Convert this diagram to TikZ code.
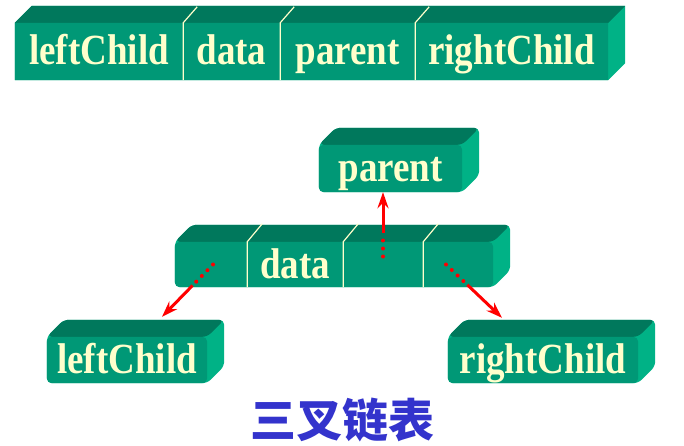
\documentclass[tikz,border=0pt]{standalone}
\usepackage{fontspec}
\usepackage{tikz}
\usetikzlibrary{calc,arrows.meta,backgrounds}
\setmainfont{Liberation Serif}
\newfontfamily\boxfont{Liberation Serif}[FakeStretch=0.86]
\newfontfamily\cjk{Noto Sans CJK SC}
\definecolor{frontgreen}{RGB}{0,152,118}
\definecolor{topgreen}{RGB}{0,120,92}
\definecolor{sidegreen}{RGB}{0,178,134}
\definecolor{textyellow}{RGB}{255,255,204}
\definecolor{titleblue}{RGB}{51,51,204}

% 3D slab behind the front face from node #1 (left) to node #2 (right)
\newcommand{\slab}[3]{%
  \begin{pgfonlayer}{background}
  \fill[sidegreen, rounded corners=#3] (#1.south west) -- (#1.north west) -- ($(#1.north west)+(17,-17)$)
     -- ($(#2.north east)+(17,-17)$) -- ($(#2.south east)+(17,-17)$) -- (#2.south east) -- cycle;
  \fill[topgreen, rounded corners=#3] (#1.north west) -- ($(#1.north west)+(17,-17)$)
     -- ($(#2.north east)+(17,-17)$) -- (#2.north east) -- cycle;
  \fill[frontgreen, rounded corners=#3] (#1.south west) rectangle (#2.north east);
  \end{pgfonlayer}}

\begin{document}
\begin{tikzpicture}[x=1pt, y=-1pt,
		cell_style/.style={rectangle, inner sep=0pt, text=textyellow,
			font=\boxfont\bfseries\fontsize{43pt}{43pt}\selectfont,
			text height=30pt, text depth=3pt},
		divider_style/.style={draw=textyellow, line width=1.2pt},
		dot_style/.style={draw=red, line width=4pt, line cap=round, dash pattern=on 0pt off 8pt},
		arrow_style/.style={draw=red, line width=3pt, -{Stealth[length=16pt, width=11pt]}}]

		\useasboundingbox (0,0) rectangle (684,446);

		% upper row: the node layout
		\node[cell_style, minimum width=168pt, minimum height=57pt] (t1) at (99,51.5)    {leftChild};
		\node[cell_style, minimum width=97pt,  minimum height=57pt] (t2) at (231.5,51.5) {data};
		\node[cell_style, minimum width=135pt, minimum height=57pt] (t3) at (347.5,51.5) {parent};
		\node[cell_style, minimum width=193pt, minimum height=57pt] (t4) at (511.5,51.5) {rightChild};
		\slab{t1}{t4}{0.01pt}
		\foreach \c in {t1,t2,t3}
			\draw[divider_style] (\c.south east) -- (\c.north east) -- ++(14,-16);

		% middle row: the data node
		\node[cell_style, minimum width=72pt, minimum height=45pt] (lc) at (211,264.5) {};
		\node[cell_style, minimum width=96pt, minimum height=45pt] (dt) at (295,264.5) {data};
		\node[cell_style, minimum width=80pt, minimum height=45pt] (pa) at (383,264.5) {};
		\node[cell_style, minimum width=70pt, minimum height=45pt] (rc) at (458,264.5) {};
		\slab{lc}{rc}{5pt}
		\foreach \c in {lc,dt,pa}
			\draw[divider_style] (\c.south east) -- (\c.north east) -- ++(15,-18);

		% the three linked nodes
		\node[cell_style, minimum width=143pt, minimum height=47pt] (np) at (390.5,168.5) {parent};
		\slab{np}{np}{5pt}
		\node[cell_style, minimum width=160pt, minimum height=46pt] (nl) at (127,360) {leftChild};
		\slab{nl}{nl}{5pt}
		\node[cell_style, minimum width=190pt, minimum height=46pt] (nr) at (543,360) {rightChild};
		\slab{nr}{nr}{5pt}

		% pointers
		\coordinate (pa_dot) at ($(pa.center)+(0,-8)$);
		\coordinate (pa_top) at ($(pa.north)+(0,-2)$);
		\coordinate (pa_arr) at ($(pa.north)+(0,-9)$);
		\draw[dot_style] (pa_dot) -- (pa_top);
		\draw[arrow_style] (pa_arr) -- (pa.north |- np.south);

		\coordinate (lc_dot) at ($(lc.center)+(2,0)$);
		\coordinate (lc_tip) at ($(nl.north)+(35,-20)$);
		\draw[dot_style] (lc_dot) -- ($(lc_dot)!0.35!(lc_tip)$);
		\draw[arrow_style] ($(lc_dot)!0.40!(lc_tip)$) -- (lc_tip);

		\coordinate (rc_dot) at ($(rc.center)+(-12,0)$);
		\coordinate (rc_tip) at ($(nr.north)+(-41,-19)$);
		\draw[dot_style] (rc_dot) -- ($(rc_dot)!0.33!(rc_tip)$);
		\draw[arrow_style] ($(rc_dot)!0.38!(rc_tip)$) -- (rc_tip);

		% caption
		\node[text=titleblue, font=\cjk\bfseries\fontsize{46pt}{46pt}\selectfont] (title) at (342,420) {三叉链表};

\end{tikzpicture}
\end{document}
